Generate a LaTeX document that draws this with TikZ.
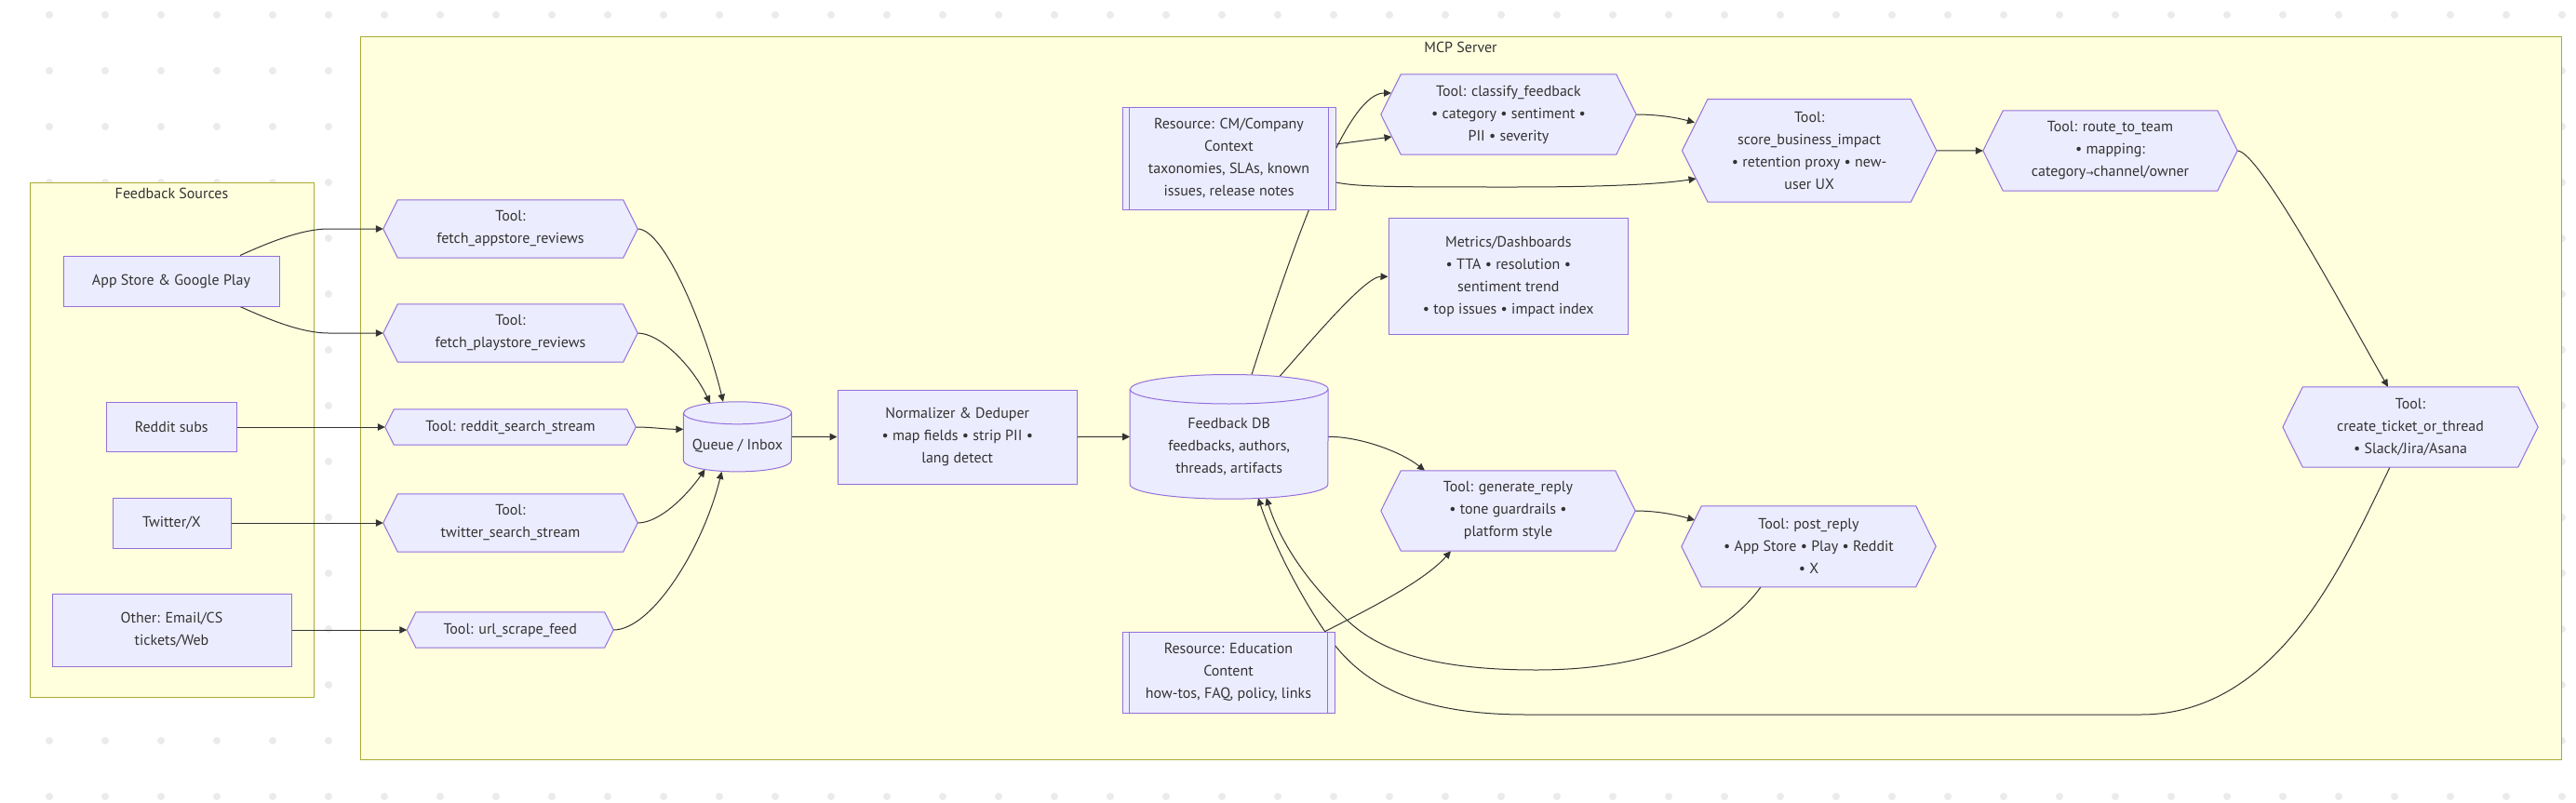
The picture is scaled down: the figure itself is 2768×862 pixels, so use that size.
\documentclass[tikz,border=0pt]{standalone}
\usepackage{fontspec}
\setmainfont{PT Sans}
\newfontfamily\arrowfont{DejaVu Sans}
\usetikzlibrary{arrows.meta,calc}
\definecolor{nfill}{HTML}{ECECFF}
\definecolor{nline}{HTML}{9370DB}
\definecolor{cfill}{HTML}{FFFFDE}
\definecolor{cline}{HTML}{AAAA33}
\definecolor{eline}{HTML}{333333}
\definecolor{dotc}{HTML}{EBEBEB}
\pgfdeclarelayer{bg}
\pgfdeclarelayer{edges}
\pgfdeclarelayer{fills}
\pgfsetlayers{bg,edges,fills,main}
\tikzset{
  txt/.style={text=eline, font=\fontsize{16}{24}\selectfont, align=center, inner sep=0pt},
  box/.style={txt, draw=nline, fill=nfill, line width=1pt},
  shapen/.style={txt},
  shapeline/.style={draw=nline, fill=nfill, line width=1pt},
  cluster/.style={draw=cline, fill=cfill, line width=1pt},
  conn/.style={draw=eline, line width=1pt, -{Triangle[length=8pt,width=7.5pt]}},
  plainconn/.style={draw=eline, line width=1pt}
}
\newcommand\hexpath[2]{%
  \begin{pgfonlayer}{fills}
  \path[shapeline] ([xshift=#2 pt]#1.north west) -- ([xshift=-#2 pt]#1.north east) -- (#1.east) -- ([xshift=-#2 pt]#1.south east) -- ([xshift=#2 pt]#1.south west) -- (#1.west) -- cycle;
  \end{pgfonlayer}}
\newcommand\cylpath[3]{%
  \begin{pgfonlayer}{fills}
  \path[shapeline] ([yshift=-#2 pt]#1.north west) -- ([yshift=#2 pt]#1.south west) arc[start angle=180, end angle=360, x radius=#3 pt, y radius=#2 pt] -- ([yshift=-#2 pt]#1.north east) arc[start angle=0, end angle=180, x radius=#3 pt, y radius=#2 pt] -- cycle;
  \draw[draw=nline, line width=1pt] ([yshift=-#2 pt]#1.north west) arc[start angle=180, end angle=360, x radius=#3 pt, y radius=#2 pt];
  \end{pgfonlayer}}
\newcommand\subr[1]{%
  \draw[draw=nline, line width=1pt] ([xshift=8pt]#1.north west) -- ([xshift=8pt]#1.south west);
  \draw[draw=nline, line width=1pt] ([xshift=-8pt]#1.north east) -- ([xshift=-8pt]#1.south east);}
\newcommand\smallarrow{{\arrowfont\fontsize{10}{10}\selectfont →}}
\begin{document}
\begin{tikzpicture}[x=1pt,y=-1pt]
\useasboundingbox (0,0) rectangle (2768,862);
\begin{pgfonlayer}{bg}
\fill[white] (0,0) rectangle (2768,862);
\foreach \i in {0,...,45}{\foreach \j in {0,...,14}{\fill[dotc] (53+60*\i,16+60*\j) circle[radius=4pt];}}
\path[cluster] (32,196) rectangle (337,749);
\path[cluster] (387,39) rectangle (2752,816);
\end{pgfonlayer}
\node[txt] (fstitle) at (184.5,208) {Feedback Sources};
\node[txt] (mcptitle) at (1569.5,51) {MCP Server};

% sources
\node[box, minimum width=232, minimum height=54] (appstore) at (184,302) {App Store \& Google Play};
\node[box, minimum width=140.5, minimum height=53] (reddit) at (184.25,459) {Reddit subs};
\node[box, minimum width=127, minimum height=54] (twitter) at (184.5,562) {Twitter/X};
\node[box, minimum width=257, minimum height=78] (other) at (184.5,677) {Other: Email/CS\\tickets/Web};

% fetch tools
\node[shapen, minimum width=273, minimum height=62] (fa) at (548.5,246) {Tool:\\fetch\_appstore\_reviews};
\hexpath{fa}{15.5}
\node[shapen, minimum width=273, minimum height=62] (fp) at (548.5,358) {Tool:\\fetch\_playstore\_reviews};
\hexpath{fp}{15.5}
\node[shapen, minimum width=269, minimum height=38] (rs) at (548.5,459) {Tool: reddit\_search\_stream};
\hexpath{rs}{9.5}
\node[shapen, minimum width=273, minimum height=62] (ts) at (548.5,562) {Tool:\\twitter\_search\_stream};
\hexpath{ts}{15.5}
\node[shapen, minimum width=221.5, minimum height=38] (us) at (548.25,677) {Tool: url\_scrape\_feed};
\hexpath{us}{9.5}

% queue
\node[shapen, minimum width=116, minimum height=74.7] (queue) at (792.5,469.35) {};
\node[txt] (queuet) at (792.5,479) {Queue / Inbox};
\cylpath{queue}{12}{58}

\node[box, minimum width=257.5, minimum height=101] (norm) at (1028.75,469.5) {Normalizer \& Deduper\\• map fields • strip PII •\\lang detect};

% db
\node[shapen, minimum width=212.6, minimum height=133.3] (db) at (1320.7,469.35) {};
\node[txt] (dbt) at (1320.7,480) {Feedback DB\\feedbacks, authors,\\threads, artifacts};
\cylpath{db}{15.75}{106.3}

\node[box, minimum width=229, minimum height=110] (rescm) at (1320.5,170) {Resource: CM/Company\\Context\\taxonomies, SLAs, known\\issues, release notes};
\subr{rescm}

\node[shapen, minimum width=274, minimum height=86] (classify) at (1621,123) {Tool: classify\_feedback\\• category • sentiment •\\PII • severity};
\hexpath{classify}{21.5}

\node[box, minimum width=257.6, minimum height=124.7] (metrics) at (1620.8,297.3) {Metrics/Dashboards\\• TTA • resolution •\\sentiment trend\\• top issues • impact index};

\node[shapen, minimum width=273, minimum height=110] (score) at (1944.15,161.85) {Tool:\\score\_business\_impact\\• retention proxy • new-\\user UX};
\hexpath{score}{27.5}

\node[shapen, minimum width=273, minimum height=86] (route) at (2267.5,162) {Tool: route\_to\_team\\• mapping:\\category\smallarrow channel/owner};
\hexpath{route}{21.5}

\node[shapen, minimum width=274, minimum height=86] (ct) at (2590,459) {Tool:\\create\_ticket\_or\_thread\\• Slack/Jira/Asana};
\hexpath{ct}{21.5}

\node[shapen, minimum width=273, minimum height=86] (gen) at (1620.5,549) {Tool: generate\_reply\\• tone guardrails •\\platform style};
\hexpath{gen}{21.5}

\node[shapen, minimum width=273, minimum height=86.7] (post) at (1943.5,587.3) {Tool: post\_reply\\• App Store • Play • Reddit\\• X};
\hexpath{post}{21.5}

\node[box, minimum width=228, minimum height=87] (resedu) at (1320,722.5) {Resource: Education\\Content\\how-tos, FAQ, policy, links};
\subr{resedu}

% edges
\begin{pgfonlayer}{edges}
\draw[conn] ([xshift=74pt]appstore.north) .. controls (290,260) and (325,246) .. ([xshift=-59pt]fa.west) -- (fa.west);
\draw[conn] ([xshift=74pt]appstore.south) .. controls (290,344) and (325,358) .. ([xshift=-59pt]fp.west) -- (fp.west);
\draw[conn] (reddit.east) -- (rs.west);
\draw[conn] (twitter.east) -- (ts.west);
\draw[conn] (other.east) -- (us.west);

\draw[conn] (fa.east) .. controls (715,246) and (760,360) .. ([xshift=-15.5pt]queue.north);
\draw[conn] (fp.east) .. controls (710,358) and (745,395) .. ([xshift=-29.5pt,yshift=-1.5pt]queue.north);
\draw[conn] (rs.east) .. controls (700,459) and (715,461.3) .. ([yshift=8pt]queue.west);
\draw[conn] (ts.east) .. controls (710,562) and (740,530) .. ([xshift=-35pt,yshift=2.4pt]queue.south);
\draw[conn] (us.east) .. controls (700,677) and (755,590) .. ([xshift=-17pt]queue.south);

\draw[conn] (queue.east) -- (norm.west);
\draw[conn] (norm.east) -- (db.west);

\draw[conn] ([xshift=24.3pt]db.north) .. controls (1400,230) and (1450,100) .. (1495,100);
\draw[conn] ([yshift=15pt]rescm.east) -- (1495.5,147);
\draw[conn] ([yshift=-26pt]rescm.east) .. controls (1460,201) and (1500,201) .. (1626,201) .. controls (1740,201) and (1790,197) .. (1822.5,192);
\draw[conn] ([xshift=54.3pt,yshift=-2pt]db.north) .. controls (1410,365) and (1467,297) .. (metrics.west);
\draw[conn] (classify.east) .. controls (1780,123) and (1800,126) .. (1821,131.7);
\draw[conn] (score.east) -- (route.west);
\draw[conn] (route.east) .. controls (2428,162) and (2525,345) .. ([xshift=-24pt]ct.north);
\draw[conn] ([xshift=-22pt]ct.south) .. controls (2520,600) and (2450,768) .. (2300,768) -- (1640,768) .. controls (1540,768) and (1475,745) .. (1434,693) .. controls (1405,655) and (1370,590) .. ([xshift=31.3pt,yshift=1pt]db.south);
\draw[conn] (db.east) .. controls (1460,469) and (1505,485) .. ([xshift=-89.5pt]gen.north);
\draw[conn] (gen.east) .. controls (1780,549) and (1800,553) .. (1821.2,559);
\draw[conn] ([xshift=104pt]resedu.north) .. controls (1470,655) and (1530,625) .. ([xshift=-61.5pt]gen.south);
\draw[conn] ([xshift=-51.5pt]post.south) .. controls (1850,690) and (1760,720) .. (1651,720) .. controls (1540,720) and (1480,700) .. (1444,663) .. controls (1400,620) and (1375,580) .. ([xshift=40pt,yshift=1.2pt]db.south);
\end{pgfonlayer}
\end{tikzpicture}
\end{document}
